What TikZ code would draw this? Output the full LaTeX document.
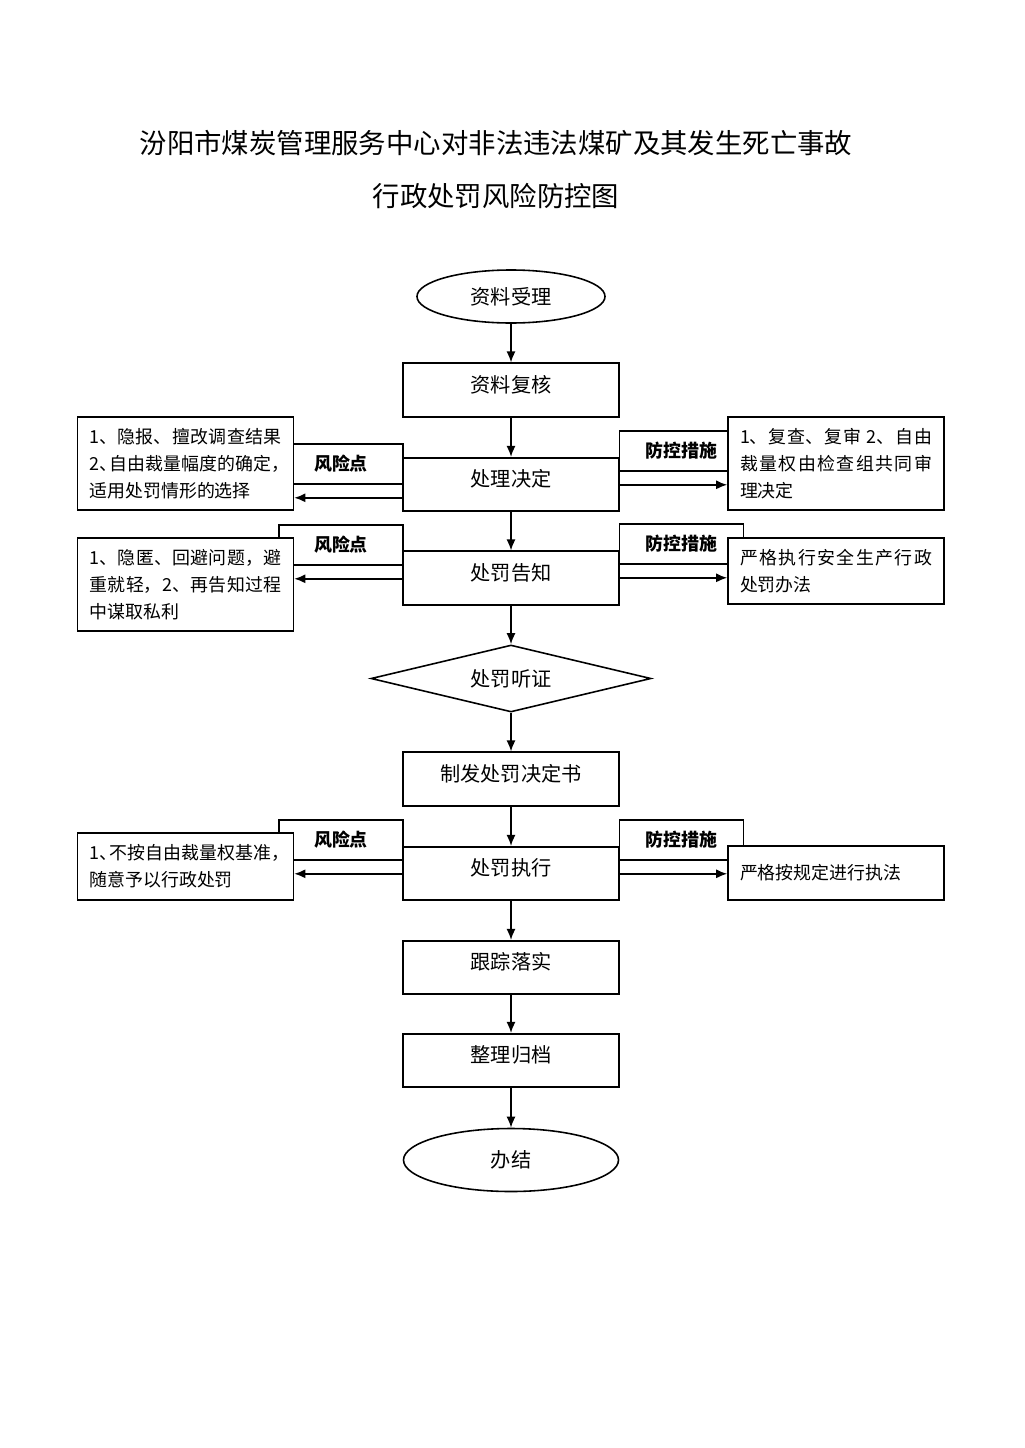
\documentclass[tikz,border=0pt]{standalone}
\usepackage{fontspec}
\setmainfont{Noto Sans CJK SC}
\usetikzlibrary{shapes.geometric,arrows.meta,positioning}
\XeTeXlinebreaklocale "zh"
\XeTeXlinebreakskip = 0pt plus 2pt minus 0.6pt
\newcommand{\tight}[1]{#1\kern-.45em}
\tikzstyle{process}   = [rectangle, draw, fill=white, line width=0.9pt, minimum width=43.2mm, minimum height=10.7mm, inner sep=0pt, font=\fontsize{11.5}{14}\selectfont, text height=3.6mm, text depth=2.7mm]
\tikzstyle{startstop} = [ellipse, draw, fill=white, line width=0.9pt, inner sep=0pt, font=\fontsize{11.5}{14}\selectfont]
\tikzstyle{decision}  = [diamond, draw, fill=white, line width=0.9pt, inner sep=0pt, aspect=4.18, minimum width=56mm, minimum height=13.4mm, font=\fontsize{11.5}{14}\selectfont]
\tikzstyle{note}      = [rectangle, draw, fill=white, line width=0.9pt, text width=38.4mm, inner xsep=2.4mm, inner ysep=0pt, align=justify, font=\fontsize{10.2}{15.35}\selectfont]
\tikzstyle{tag}       = [rectangle, draw, fill=white, line width=0.9pt, minimum width=24.8mm, minimum height=8mm, inner sep=0pt, font=\bfseries\fontsize{10.2}{12}\selectfont]
\tikzstyle{arrow}     = [line width=0.9pt, -{Latex[length=2.2mm,width=1.8mm]}]

\begin{document}
\begin{tikzpicture}[x=0.2mm, y=-0.2mm]
    \useasboundingbox (0,0) rectangle (1024,1448);

    % title
    \node[font=\fontsize{15.6}{20}\selectfont] (title1) at (496,143) {汾阳市煤炭管理服务中心对非法违法煤矿及其发生死亡事故};
    \node[font=\fontsize{15.6}{20}\selectfont] (title2) at (496,196) {行政处罚风险防控图};

    % risk / control tags
    \node[tag] (riskA) at (341,464) {风险点};
    \node[tag] (riskB) at (341,545) {风险点};
    \node[tag] (riskC) at (341,840) {风险点};
    \node[tag] (ctrlA) at (681.5,451) {防控措施};
    \node[tag] (ctrlB) at (681.5,544) {防控措施};
    \node[tag] (ctrlC) at (681.5,840) {防控措施};

    % side notes
    \node[note, minimum height=18.6mm] (leftA) at (185.5,463.5) {1、隐报、擅改调查结果\linebreak 2\tight{、}自由裁量幅度的确定\tight{，}\linebreak 适用处罚情形的选择};
    \node[note, minimum height=18.6mm] (leftB) at (185.5,584.5) {1、隐匿、回避问题，避\linebreak 重就轻，2、再告知过程\linebreak 中谋取私利};
    \node[note, minimum height=13.4mm] (leftC) at (185.5,866.5) {1\tight{、}不按自由裁量权基准\tight{，}\linebreak 随意予以行政处罚};
    \node[note, minimum height=18.6mm] (rightA) at (836,463.5) {1、复查、复审 2、自由\linebreak 裁量权由检查组共同审\linebreak 理决定};
    \node[note, minimum height=13.2mm] (rightB) at (836,571) {严格执行安全生产行政\linebreak 处罚办法};
    \node[note, minimum height=10.8mm] (rightC) at (836,873) {严格按规定进行执法};

    % main flow
    \node[startstop, minimum width=37.6mm, minimum height=10.6mm] (start) at (511,296.5) {资料受理};
    \node[process] (check)   at (511,390)    {资料复核};
    \node[process] (decide)  at (511,484.5)  {处理决定};
    \node[process] (notify)  at (511,578)    {处罚告知};
    \node[decision] (hearing) at (511,678.5) {处罚听证};
    \node[process] (issue)   at (511,779)    {制发处罚决定书};
    \node[process] (execute) at (511,873.5)  {处罚执行};
    \node[process] (track)   at (511,967.5)  {跟踪落实};
    \node[process] (archive) at (511,1060.5) {整理归档};
    \node[startstop, minimum width=43mm, minimum height=12.6mm] (finish) at (511,1160) {办结};

    \draw[arrow] (start) -- (check);
    \draw[arrow] (check) -- (decide);
    \draw[arrow] (decide) -- (notify);
    \draw[arrow] (notify) -- (hearing);
    \draw[arrow] (hearing) -- (issue);
    \draw[arrow] (issue) -- (execute);
    \draw[arrow] (execute) -- (track);
    \draw[arrow] (track) -- (archive);
    \draw[arrow] (archive) -- (finish);

    % side arrows
    \coordinate (ra) at ([yshift=-2.6mm]riskA.south east);
    \coordinate (rb) at ([yshift=-2.6mm]riskB.south east);
    \coordinate (rc) at ([yshift=-2.6mm]riskC.south east);
    \coordinate (ca) at ([yshift=-2.6mm]ctrlA.south west);
    \coordinate (cb) at ([yshift=-2.6mm]ctrlB.south west);
    \coordinate (cc) at ([yshift=-2.6mm]ctrlC.south west);
    \draw[arrow] (ra) -- (ra -| leftA.east);
    \draw[arrow] (rb) -- (rb -| leftB.east);
    \draw[arrow] (rc) -- (rc -| leftC.east);
    \draw[arrow] (ca) -- (ca -| rightA.west);
    \draw[arrow] (cb) -- (cb -| rightB.west);
    \draw[arrow] (cc) -- (cc -| rightC.west);
\end{tikzpicture}
\end{document}
